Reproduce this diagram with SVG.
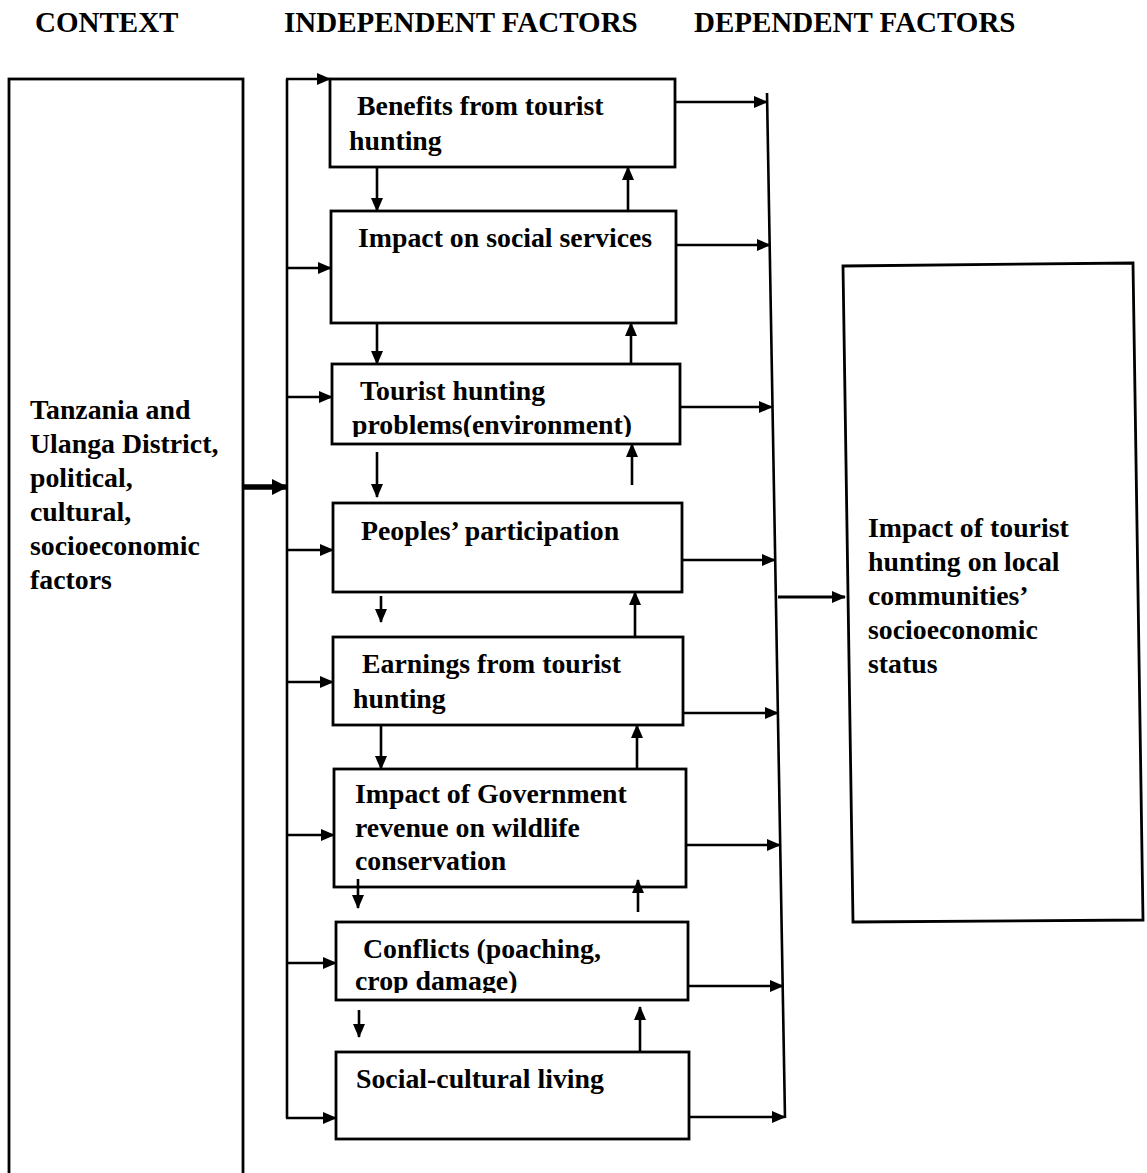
<svg xmlns="http://www.w3.org/2000/svg" width="1147" height="1173" viewBox="0 0 1147 1173">
<style>
.bg{fill:#fff}
.box{fill:#fff;stroke:#000;stroke-width:2.8}
.t{font-family:"Liberation Serif","Times New Roman",serif;font-weight:bold;font-size:27.8px;fill:#000}
.h{font-family:"Liberation Serif","Times New Roman",serif;font-weight:bold;font-size:29px;fill:#000}
.c{fill:none;stroke:#000;stroke-width:2.6}
.a{fill:none;stroke:#000;stroke-width:2.6;marker-end:url(#ah)}
</style>
<defs>
<marker id="ah" viewBox="0 0 14 12" refX="13" refY="6" markerWidth="14" markerHeight="12" markerUnits="userSpaceOnUse" orient="auto"><path d="M0,0 L14,6 L0,12 z" fill="#000"/></marker>
<marker id="ahb" viewBox="0 0 16 16" refX="15" refY="8" markerWidth="16" markerHeight="16" markerUnits="userSpaceOnUse" orient="auto"><path d="M0,0 L16,8 L0,16 z" fill="#000"/></marker>
<clipPath id="clip3"><rect x="330" y="360" width="352" height="77"/></clipPath>
<clipPath id="clip7"><rect x="330" y="920" width="360" height="73"/></clipPath>
</defs>
<rect class="bg" x="0" y="0" width="1147" height="1173"/>

<g id="headers">
<text class="h" x="35" y="32">CONTEXT</text>
<text class="h" x="284" y="32">INDEPENDENT FACTORS</text>
<text class="h" x="694" y="32">DEPENDENT FACTORS</text>
</g>

<g id="context">
<rect class="box" x="9" y="79" width="234" height="1110"/>
<text class="t" x="30" y="419">Tanzania and</text>
<text class="t" x="30" y="453">Ulanga District,</text>
<text class="t" x="30" y="487">political,</text>
<text class="t" x="30" y="521">cultural,</text>
<text class="t" x="30" y="555">socioeconomic</text>
<text class="t" x="30" y="589">factors</text>
</g>

<g id="benefits">
<rect class="box" x="330" y="79" width="345" height="88"/>
<text class="t" x="357" y="115">Benefits from tourist</text>
<text class="t" x="349" y="150">hunting</text>
</g>

<g id="social-services">
<rect class="box" x="331" y="211" width="345" height="112"/>
<text class="t" x="358" y="247">Impact on social services</text>
</g>

<g id="problems">
<rect class="box" x="332" y="364" width="348" height="80"/>
<text class="t" x="360" y="400">Tourist hunting</text>
<text class="t" x="352" y="434" clip-path="url(#clip3)">problems(environment)</text>
</g>

<g id="participation">
<rect class="box" x="333" y="503" width="349" height="89"/>
<text class="t" x="361" y="540">Peoples’ participation</text>
</g>

<g id="earnings">
<rect class="box" x="333" y="637" width="350" height="88"/>
<text class="t" x="362" y="673">Earnings from tourist</text>
<text class="t" x="353" y="708">hunting</text>
</g>

<g id="government">
<rect class="box" x="334" y="769" width="352" height="118"/>
<text class="t" x="355" y="803">Impact of Government</text>
<text class="t" x="355" y="837">revenue on wildlife</text>
<text class="t" x="355" y="870">conservation</text>
</g>

<g id="conflicts">
<rect class="box" x="336" y="922" width="352" height="78"/>
<text class="t" x="363" y="958">Conflicts (poaching,</text>
<text class="t" x="355" y="990" clip-path="url(#clip7)">crop damage)</text>
</g>

<g id="social-cultural">
<rect class="box" x="336" y="1052" width="353" height="87"/>
<text class="t" x="356" y="1088">Social-cultural living</text>
</g>

<g id="impact">
<polygon class="box" points="843,266 1133,263 1143,920 853,922"/>
<text class="t" x="868" y="537">Impact of tourist</text>
<text class="t" x="868" y="571">hunting on local</text>
<text class="t" x="868" y="605">communities’</text>
<text class="t" x="868" y="639">socioeconomic</text>
<text class="t" x="868" y="673">status</text>
</g>

<g id="connectors">
<line x1="243" y1="487" x2="287" y2="487" stroke="#000" stroke-width="5.5" marker-end="url(#ahb)"/>
<line class="c" x1="287" y1="79" x2="287" y2="1118"/>
<line class="a" x1="286" y1="79" x2="330" y2="79"/>
<line class="a" x1="287" y1="268" x2="331" y2="268"/>
<line class="a" x1="287" y1="397" x2="332" y2="397"/>
<line class="a" x1="287" y1="550" x2="333" y2="550"/>
<line class="a" x1="287" y1="682" x2="333" y2="682"/>
<line class="a" x1="287" y1="835" x2="334" y2="835"/>
<line class="a" x1="287" y1="963" x2="336" y2="963"/>
<line class="a" x1="286" y1="1118" x2="336" y2="1118"/>
<line class="c" x1="767" y1="93" x2="785" y2="1118"/>
<line class="a" x1="675" y1="102" x2="767" y2="102"/>
<line class="a" x1="676" y1="245" x2="770" y2="245"/>
<line class="a" x1="680" y1="407" x2="772" y2="407"/>
<line class="a" x1="682" y1="560" x2="775" y2="560"/>
<line class="a" x1="683" y1="713" x2="778" y2="713"/>
<line class="a" x1="686" y1="845" x2="780" y2="845"/>
<line class="a" x1="688" y1="986" x2="783" y2="986"/>
<line class="a" x1="689" y1="1117" x2="785" y2="1117"/>
<line x1="778" y1="597" x2="845" y2="597" stroke="#000" stroke-width="3.2" marker-end="url(#ah)"/>
<line class="a" x1="377" y1="167" x2="377" y2="211"/>
<line class="a" x1="377" y1="323" x2="377" y2="364"/>
<line class="a" x1="377" y1="452" x2="377" y2="497"/>
<line class="a" x1="381" y1="596" x2="381" y2="622"/>
<line class="a" x1="381" y1="725" x2="381" y2="769"/>
<line class="a" x1="358" y1="879" x2="358" y2="908"/>
<line class="a" x1="359" y1="1010" x2="359" y2="1037"/>
<line class="a" x1="628" y1="211" x2="628" y2="167"/>
<line class="a" x1="631" y1="364" x2="631" y2="323"/>
<line class="a" x1="632" y1="485" x2="632" y2="444"/>
<line class="a" x1="635" y1="637" x2="635" y2="592"/>
<line class="a" x1="637" y1="769" x2="637" y2="725"/>
<line class="a" x1="638" y1="912" x2="638" y2="880"/>
<line class="a" x1="640" y1="1052" x2="640" y2="1007"/>
</g>
</svg>
